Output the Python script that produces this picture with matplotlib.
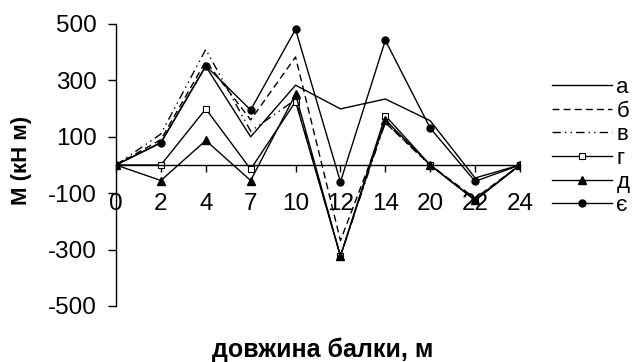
import matplotlib
matplotlib.use("Agg")
import matplotlib.pyplot as plt
import numpy as np

plt.rcParams['font.family'] = ['Liberation Sans', 'DejaVu Sans']
plt.rcParams['axes.unicode_minus'] = False

x_labels = ['0', '2', '4', '7', '10', '12', '14', '20', '22', '24']
a = [0, 80, 350, 100, 283, 199, 234, 157, -46, 0]
b = [0, 90, 368, 160, 383, -268, 150, 0, -118, 0]
v = [0, 110, 410, 120, 232, -323, 152, -2, -122, 0]
g = [0, 0, 199, -15, 225, -323, 175, 0, -125, 0]
d = [0, -55, 87, -55, 251, -323, 160, 0, -125, 0]
e = [0, 78, 352, 195, 481, -60, 442, 131, -58, 0]
y_ticks = [-500, -300, -100, 100, 300, 500]

xi = np.arange(len(x_labels))

fig = plt.figure(figsize=(6.36, 3.62), dpi=100)
ax = fig.add_axes([116/636, 1-306/362, 404/636, 282/362])

ax.plot(xi, a, color='k', lw=1, label='а')
ax.plot(xi, b, color='k', lw=1, ls=(0, (5, 3)), label='б')
ax.plot(xi, v, color='k', lw=1, ls=(0, (6, 3, 1, 3, 1, 3)), label='в')
ax.plot(xi, g, color='k', lw=1, marker='s', ms=4.5, mfc='white', mec='k', mew=0.8, label='г')
ax.plot(xi, d, color='k', lw=1, marker='^', ms=5.5, label='д')
ax.plot(xi, e, color='k', lw=1, marker='o', ms=5, label='є')

ax.set_xlim(0, len(x_labels) - 1)
ax.set_ylim(-500, 500)
ax.set_yticks(y_ticks)
ax.set_xticks(xi)
ax.set_xticklabels(x_labels)

ax.spines['right'].set_visible(False)
ax.spines['top'].set_visible(False)
ax.spines['bottom'].set_position(('data', 0))
ax.spines['bottom'].set_linewidth(1)
ax.spines['left'].set_linewidth(1)

ax.tick_params(axis='y', direction='out', length=6, width=1, labelsize=17.5, pad=8)
ax.tick_params(axis='x', direction='out', length=5, width=1, labelsize=17.5, pad=15)

fig.text(22/636, 1-160/362, 'М (кН м)', rotation=90, ha='center', va='center',
         fontsize=16, fontweight='bold')
fig.text(323/636, 1-350/362, 'довжина балки, м', ha='center', va='center',
         fontsize=18, fontweight='bold')

fig.legend(loc='center left', bbox_to_anchor=(552/636, 1-146.5/362), frameon=False,
           fontsize=16, handlelength=2.7, handletextpad=0.2, labelspacing=0.12,
           borderpad=0, borderaxespad=0, numpoints=1)

fig.savefig('out.png', dpi=100)
